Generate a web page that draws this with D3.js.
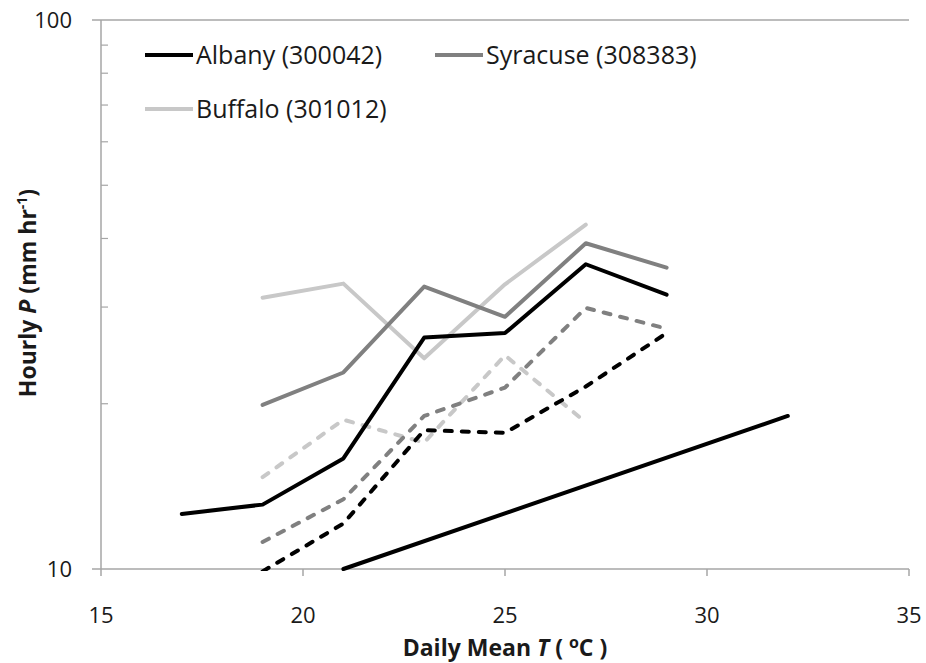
<!DOCTYPE html>
<html>
<head>
<meta charset="utf-8">
<script src="https://cdn.jsdelivr.net/npm/d3@7"></script>
<style>
  body { margin: 0; background: #fff; }
  svg text { font-family: "Open Sans", sans-serif; fill: #1a1a1a; }
</style>
</head>
<body>
<div id="vizContainer"></div>
<script>
// data (daily mean T in C, hourly P in mm/hr)
var temps = [17, 19, 21, 23, 25, 27, 29];
var albanySolid   = [12.6, 13.1, 15.9, 26.4, 26.9, 35.9, 31.6];
var syracuseSolid = [null, 19.9, 22.8, 32.7, 28.8, 39.2, 35.4];
var buffaloSolid  = [null, 31.2, 33.1, 24.2, 33.0, 42.4, null];
var albanyDashed   = [null, 9.9, 12.1, 17.9, 17.7, 21.5, 26.9];
var syracuseDashed = [null, 11.2, 13.4, 19.0, 21.4, 29.9, 27.4];
var buffaloDashed  = [null, 14.7, 18.7, 17.0, 24.5, 18.5, null];
// straight reference line
var refTemps = [21, 32];
var refValues = [10.0, 19.0];

var xTicks = [15, 20, 25, 30, 35];
var yTicks = [10, 100];
var yMinorTicks = [20, 30, 40, 50, 60, 70, 80, 90];
var legendNames = ['Albany (300042)', 'Syracuse (308383)', 'Buffalo (301012)'];

var width = 926, height = 663;
var x = d3.scaleLinear().domain([15, 35]).range([101, 909]);
var y = d3.scaleLog().domain([10, 100]).range([569, 20]);
var axisColor = '#a6a6a6';

// make the main svg
function initializeSvg(width, height){
    return d3.select('#vizContainer').append('svg')
    .attr('width', width)
    .attr('height', height)
    .attr('viewBox', '0 0 ' + width + ' ' + height)
    .attr('id', 'visualizations');
}

// pair up the temps with one series, skipping gaps
function toPoints(xs, ys){
    return xs.map(function(t, i){ return [t, ys[i]]; })
        .filter(function(p){ return p[1] != null; });
}

function drawAxes(svg){
    // top gridline at 100 and the bottom axis line at 10
    svg.append('line').attr('x1', 92).attr('x2', x(35))
        .attr('y1', y(100)).attr('y2', y(100))
        .attr('stroke', axisColor).attr('stroke-width', 1.5);
    svg.append('line').attr('x1', 92).attr('x2', x(35))
        .attr('y1', y(10)).attr('y2', y(10))
        .attr('stroke', axisColor).attr('stroke-width', 1.5);
    // y axis line
    svg.append('line').attr('x1', x(15)).attr('x2', x(15))
        .attr('y1', y(100)).attr('y2', y(10))
        .attr('stroke', axisColor).attr('stroke-width', 1.5);

    // x ticks hang below the axis
    svg.selectAll('.xtick').data(xTicks).enter().append('line')
        .attr('x1', function(d){ return x(d); })
        .attr('x2', function(d){ return x(d); })
        .attr('y1', y(10)).attr('y2', y(10) + 7)
        .attr('stroke', axisColor).attr('stroke-width', 1.5);
    svg.selectAll('.xlabel').data(xTicks).enter().append('text')
        .attr('x', function(d){ return x(d); })
        .attr('y', 623)
        .attr('text-anchor', 'middle')
        .attr('font-size', 22)
        .text(function(d){ return d; });

    // minor ticks on the inside of the y axis
    svg.selectAll('.yminor').data(yMinorTicks).enter().append('line')
        .attr('x1', x(15)).attr('x2', x(15) + 7)
        .attr('y1', function(d){ return y(d); })
        .attr('y2', function(d){ return y(d); })
        .attr('stroke', axisColor).attr('stroke-width', 1.2);
    svg.selectAll('.ylabel').data(yTicks).enter().append('text')
        .attr('x', 72)
        .attr('y', function(d){ return y(d) + 8; })
        .attr('text-anchor', 'end')
        .attr('font-size', 22)
        .text(function(d){ return d; });

    // axis titles
    var xt = svg.append('text')
        .attr('x', 505).attr('y', 656)
        .attr('text-anchor', 'middle')
        .attr('font-size', 23).attr('font-weight', 'bold');
    xt.append('tspan').text('Daily Mean ');
    xt.append('tspan').attr('font-style', 'italic').text('T');
    xt.append('tspan').text(' ( ');
    xt.append('tspan').attr('font-size', 16).attr('dy', -8).text('o');
    xt.append('tspan').attr('dy', 8).text('C )');

    var yt = svg.append('text')
        .attr('transform', 'translate(36,293) rotate(-90)')
        .attr('text-anchor', 'middle')
        .attr('font-size', 23).attr('font-weight', 'bold');
    yt.append('tspan').text('Hourly ');
    yt.append('tspan').attr('font-style', 'italic').text('P');
    yt.append('tspan').text(' (mm  hr');
    yt.append('tspan').attr('font-size', 14).attr('dy', -9).text('-1');
    yt.append('tspan').attr('dy', 9).text(')');
}

// draw one series as a path, dashed or solid
function drawSeries(svg, points, color, dashed){
    var line = d3.line()
        .x(function(d){ return x(d[0]); })
        .y(function(d){ return y(d[1]); });
    svg.append('path')
        .datum(points)
        .attr('d', line)
        .attr('fill', 'none')
        .attr('stroke', color)
        .attr('stroke-width', 4)
        .attr('stroke-linejoin', 'round')
        .attr('stroke-linecap', 'round')
        .attr('stroke-dasharray', dashed ? '7,10' : null)
        .attr('clip-path', 'url(#plotClip)');
}

function drawLegend(svg, colors){
    var spots = [[145, 55], [435, 55], [145, 109]];
    spots.forEach(function(s, i){
        svg.append('line')
            .attr('x1', s[0]).attr('x2', s[0] + 48)
            .attr('y1', s[1]).attr('y2', s[1])
            .attr('stroke', colors[i]).attr('stroke-width', 4);
        svg.append('text')
            .attr('x', s[0] + 51).attr('y', s[1] + 9)
            .attr('font-size', 25)
            .text(legendNames[i]);
    });
}

// main part, runs straight away
(function(){
    var svg = initializeSvg(width, height);
    var colors = ['#000000', '#808080', '#c8c8c8'];

    svg.append('clipPath').attr('id', 'plotClip')
        .append('rect')
        .attr('x', x(15)).attr('y', y(100))
        .attr('width', x(35) - x(15)).attr('height', y(10) - y(100) + 2);

    drawAxes(svg);

    drawSeries(svg, toPoints(temps, buffaloDashed), colors[2], true);
    drawSeries(svg, toPoints(temps, syracuseDashed), colors[1], true);
    drawSeries(svg, toPoints(temps, albanyDashed), colors[0], true);
    drawSeries(svg, toPoints(temps, buffaloSolid), colors[2], false);
    drawSeries(svg, toPoints(temps, syracuseSolid), colors[1], false);
    drawSeries(svg, toPoints(temps, albanySolid), colors[0], false);
    drawSeries(svg, toPoints(refTemps, refValues), colors[0], false);

    drawLegend(svg, colors);
})();
</script>
</body>
</html>
